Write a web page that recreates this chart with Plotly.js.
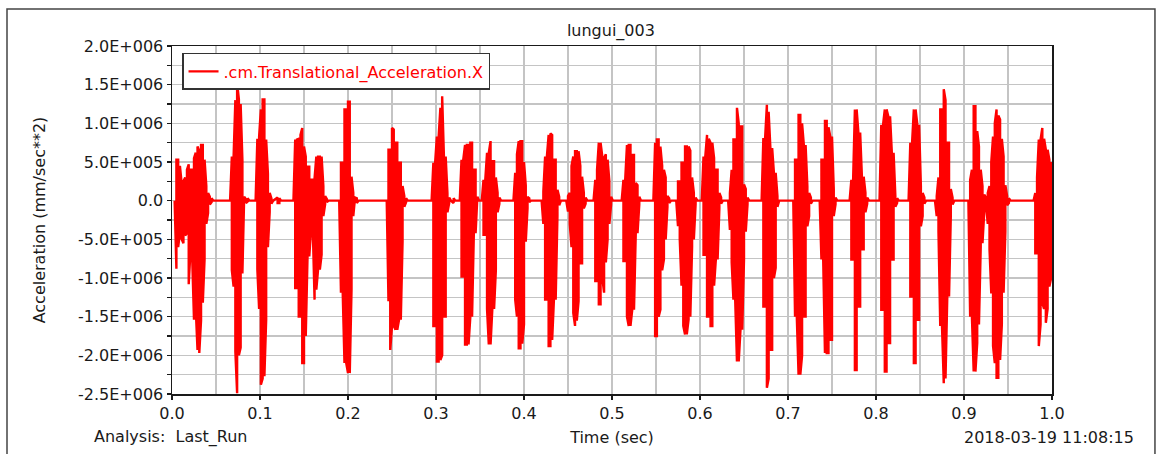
<!DOCTYPE html>
<html>
<head>
<meta charset="utf-8">
<script src="https://cdn.plot.ly/plotly-3.0.1.min.js"></script>
<style>html,body{margin:0;padding:0;background:#fff;}#chart{width:1157px;height:454px;}</style>
</head>
<body>
<div id="chart"></div>
<script>
// Sample times (sec) and the upper / lower extremes of the X acceleration at each sample, in units of 1E+006 mm/sec**2
const time = [
 0.003,
 0.005,0.007,0.009,0.011,0.013,0.015,0.017,0.019,0.021,0.023,0.025,0.027,0.029,0.031,0.033,0.035,0.037,0.039,0.041,0.043,0.045,0.047,
 0.066,0.068,0.070,0.072,0.074,0.076,0.078,0.080,0.082,0.084,0.086,0.088,
 0.095,0.097,0.099,0.101,0.103,0.105,0.107,0.109,0.111,0.113,0.115,0.120,0.122,0.124,
 0.138,0.140,0.142,0.144,0.146,0.148,0.150,0.152,0.154,0.156,0.158,0.160,0.162,0.164,0.166,0.168,0.170,0.172,0.174,0.176,0.178,
 0.190,0.192,0.194,0.196,0.198,0.200,0.202,0.204,0.206,0.208,0.210,0.212,
 0.244,0.246,0.248,0.250,0.252,0.254,0.256,0.258,0.260,0.262,0.264,0.266,0.268,
 0.295,0.297,0.299,0.301,0.303,0.305,0.307,0.309,0.311,0.313,0.315,0.317,0.320,0.322,
 0.327,0.329,0.331,0.333,0.335,0.337,0.339,0.341,0.343,0.345,0.347,0.349,
 0.352,0.354,0.356,0.358,0.360,0.362,0.364,0.366,0.368,0.370,0.372,0.374,
 0.388,0.390,0.392,0.394,0.396,0.398,0.400,0.402,0.404,0.406,0.408,
 0.420,0.422,0.424,0.426,0.428,0.430,0.432,0.434,0.436,0.438,0.440,0.442,
 0.448,0.450,0.452,0.454,0.456,0.458,0.460,0.462,0.464,0.466,0.468,0.470,0.472,
 0.479,0.481,0.483,0.485,0.487,0.489,0.491,0.493,0.495,0.497,0.499,0.501,
 0.511,0.513,0.515,0.517,0.519,0.521,0.523,0.525,0.527,0.529,0.531,0.533,
 0.547,0.549,0.551,0.553,0.555,0.557,0.559,0.561,0.563,0.565,0.567,
 0.573,0.575,0.577,0.579,0.581,0.583,0.585,0.587,0.589,0.591,0.593,0.595,0.597,
 0.602,0.604,0.606,0.608,0.610,0.612,0.614,0.616,0.618,0.620,0.622,0.624,0.626,
 0.632,0.634,0.636,0.638,0.640,0.642,0.644,0.646,0.648,0.650,0.652,0.654,0.656,
 0.670,0.672,0.674,0.676,0.678,0.680,0.682,0.684,0.686,0.688,0.690,
 0.706,0.708,0.710,0.712,0.714,0.716,0.718,0.720,0.722,0.724,0.726,0.728,
 0.736,0.738,0.740,0.742,0.744,0.746,0.748,0.750,0.752,0.754,0.756,
 0.770,0.772,0.774,0.776,0.778,0.780,0.782,0.784,0.786,0.788,0.790,0.792,
 0.804,0.806,0.808,0.810,0.812,0.814,0.816,0.818,0.820,0.822,0.824,0.826,
 0.837,0.839,0.841,0.843,0.845,0.847,0.849,0.851,0.853,0.855,0.857,
 0.867,0.869,0.871,0.873,0.875,0.877,0.879,0.881,0.883,0.885,0.887,0.889,
 0.905,0.907,0.909,0.911,0.913,0.915,0.917,0.919,0.921,0.923,0.925,
 0.927,0.929,0.931,0.933,0.935,0.937,0.939,0.941,0.943,0.945,0.947,0.949,0.951,0.953,
 0.979,0.981,0.983,0.985,0.987,0.989,0.991,0.993,0.995,0.997,0.999,1.000
];
const upperE6 = [
 0,
 .53,.53,.45,.22,.25,.30,.40,.47,.40,.40,.55,.62,.70,.64,.72,.72,.53,.19,.10,.05,.03,0,
 0,.57,.57,1.30,1.52,1.31,1.25,.53,.05,.02,.03,0,
 0,.80,.83,1.18,1.31,1.31,.79,.35,.10,.03,0,.04,.03,0,
 0,.79,.79,.80,.85,.94,.70,.57,.44,.44,.27,.27,.29,.57,.57,.57,.57,.19,.06,.02,0,
 0,.49,.49,1.18,1.18,1.28,1.28,.31,.10,.04,.03,0,
 0,.66,.66,.94,.92,.75,.75,.49,.49,.19,.06,.03,0,
 0,.49,.49,.83,.83,1.20,1.35,.57,.57,.10,.04,0,.03,0,
 0,.53,.53,.72,.72,.72,.75,.75,.40,.40,.05,0,
 0,.27,.27,.62,.62,.77,.51,.51,.30,.10,.04,0,
 0,.36,.60,.77,.77,.77,.50,.20,.05,.03,0,
 0,.12,.57,.57,.85,.87,.85,.53,.53,.14,.05,0,
 0,.06,.10,.45,.57,.64,.64,.64,.45,.31,.10,.04,0,
 0,.27,.40,.75,.75,.57,.55,.60,.53,.25,.05,0,
 0,.27,.27,.72,.72,.72,.59,.59,.23,.20,.05,0,
 0,.75,.79,.79,.70,.45,.40,.30,.06,.03,0,
 0,.25,.25,.49,.49,.70,.70,.70,.65,.30,.10,.04,0,
 0,.57,.57,.85,.80,.75,.75,.55,.40,.40,.10,.04,0,
 0,.10,.40,.79,.79,1.20,1.00,.96,.96,.21,.15,.04,0,
 0,.81,.81,1.24,1.15,.68,.68,.36,.36,.06,0,
 0,.53,.53,1.11,1.11,1.00,.72,.72,.19,.10,.04,0,
 0,.53,.53,1.03,1.03,.95,.83,.83,.15,.04,0,
 0,.27,.27,1.18,1.18,.88,.88,.31,.31,.10,.04,0,
 0,.98,.98,1.18,1.18,1.09,1.09,.62,.62,.06,.03,0,
 0,.75,.75,1.18,1.18,.98,.98,.19,.10,.04,0,
 0,.06,.30,1.18,1.18,1.44,1.30,.75,.75,.15,.04,0,
 0,.27,.40,1.22,1.22,.90,.70,.40,.19,.08,.04,
 .10,.19,.50,.83,1.00,1.18,1.10,1.05,.80,.57,.20,.06,.03,0,
 0,.10,.30,.79,.79,.94,.80,.66,.66,.53,.50,.19
];
const lowerE6 = [
 0,
 -.88,-.60,-.42,-.50,-.55,-.45,-.42,-1.08,-.65,-.76,-1.54,-1.40,-1.93,-1.97,-1.55,-1.32,-.76,-.30,-.16,-.05,-.02,0,
 0,-.90,-1.11,-1.95,-2.49,-2.00,-1.90,-.94,-.05,-.03,-.01,0,
 0,-.89,-1.40,-2.38,-2.30,-2.27,-1.54,-.60,-.15,-.04,0,-.03,-.03,0,
 0,-1.13,-1.13,-1.50,-1.50,-2.10,-2.10,-1.75,-.72,-.72,-.38,-.38,-1.28,-1.15,-.89,-.89,-.70,-.20,-.05,-.02,0,
 0,-1.19,-1.19,-2.10,-2.10,-2.23,-2.23,-1.15,-.20,-.03,-.03,0,
 0,-1.30,-1.93,-1.62,-1.62,-1.67,-1.67,-1.54,-1.54,-.53,-.08,-.02,0,
 0,-1.62,-1.62,-2.08,-2.08,-2.06,-2.00,-1.50,-1.50,-.15,-.03,0,-.03,0,
 0,-.98,-.98,-1.86,-1.86,-1.86,-1.50,-1.50,-.42,-.42,-.05,0,
 0,-.44,-.44,-1.40,-1.86,-1.86,-1.40,-1.40,-.90,-.15,-.04,0,
 0,-1.28,-1.50,-1.91,-1.91,-1.85,-1.60,-.53,-.10,-.02,0,
 0,-.30,-1.28,-1.28,-1.88,-1.88,-1.80,-1.28,-1.28,-.20,-.06,0,
 0,-.14,-.30,-.60,-1.45,-1.62,-1.55,-1.30,-.81,-.81,-.10,-.04,0,
 0,-1.04,-1.04,-1.34,-1.34,-1.00,-1.19,-.80,-.50,-.30,-.05,0,
 0,-.78,-.78,-1.50,-1.62,-1.62,-1.41,-1.41,-.42,-.42,-.05,0,
 0,-1.75,-1.75,-1.50,-1.41,-.90,-.76,-.50,-.08,-.03,0,
 0,-.33,-.50,-1.10,-1.62,-1.73,-1.73,-1.54,-1.50,-.60,-.50,-.05,0,
 0,-.70,-.70,-1.50,-1.50,-1.62,-1.62,-1.10,-.76,-.76,-.10,-.04,0,
 0,-.38,-.80,-1.28,-1.28,-2.08,-2.08,-1.67,-1.67,-.76,-.40,-.05,0,
 0,-1.37,-1.37,-2.42,-2.30,-1.93,-1.93,-1.00,-.87,-.08,0,
 0,-1.50,-1.50,-2.25,-2.25,-2.00,-1.50,-1.50,-.33,-.20,-.04,0,
 0,-.76,-.76,-1.97,-1.97,-1.97,-1.80,-1.80,-.20,-.05,0,
 0,-.76,-.76,-2.19,-2.19,-1.37,-1.37,-.63,-.63,-.15,-.04,0,
 0,-1.41,-1.41,-2.21,-2.21,-1.84,-1.84,-.76,-.76,-.08,-.03,0,
 0,-1.24,-1.24,-2.10,-2.10,-1.54,-1.54,-.33,-.20,-.04,0,
 0,-.20,-.40,-1.62,-1.62,-2.36,-2.30,-1.24,-1.24,-.20,-.05,0,
 0,-1.50,-1.50,-2.21,-2.21,-1.84,-1.60,-.60,-.55,-.15,-.04,
 -.30,-.63,-1.20,-1.88,-2.10,-2.29,-2.29,-2.06,-1.60,-1.19,-.40,-.06,-.03,0,
 0,-.68,-.68,-1.88,-1.60,-1.32,-1.40,-1.58,-1.40,-1.11,-1.00,.19
];
const yTickVals = [-2.5e6,-2.0e6,-1.5e6,-1.0e6,-0.5e6,0,0.5e6,1.0e6,1.5e6,2.0e6];
const yTickText = ["-2.5E+006","-2.0E+006","-1.5E+006","-1.0E+006","-5.0E+005","0.0","5.0E+005","1.0E+006","1.5E+006","2.0E+006"];
const seriesName = ".cm.Translational_Acceleration.X";
const chartTitle = "lungui_003";
const analysisText = "Analysis:\u00a0 Last_Run";
const dateText = "2018-03-19 11:08:15";

// Trace each sample as a stroke between its upper and lower extreme
const xs = [], ys = [];
for (let i = 0; i < time.length; i++) {
  const hi = upperE6[i] * 1e6, lo = lowerE6[i] * 1e6;
  xs.push(time[i], time[i]);
  if (i % 2 === 0) ys.push(hi, lo); else ys.push(lo, hi);
}

const FONT = '"DejaVu Sans", Verdana, sans-serif';
const TXT = '#1a1a1a';
const trace = {
  x: xs, y: ys, type: 'scatter', mode: 'lines', name: seriesName,
  line: {color: '#ff0000', width: 2.4}, showlegend: true
};
const grid = '#c4c4c4';
const layout = {
  width: 1157, height: 454,
  margin: {l: 172, r: 105, t: 46, b: 60, pad: 0},
  paper_bgcolor: '#ffffff', plot_bgcolor: '#ffffff',
  font: {family: FONT, size: 16, color: TXT},
  title: {text: chartTitle, x: 0.528, xref: 'container', xanchor: 'center', y: 1 - 30/454, yref: 'container', yanchor: 'middle', font: {family: FONT, size: 16, color: TXT}},
  showlegend: true,
  legend: {x: 0.0114, y: 0.98, xanchor: 'left', yanchor: 'top', bgcolor: '#ffffff', bordercolor: '#333333', borderwidth: 1.5, font: {family: FONT, size: 16, color: '#ff0000'}, itemwidth: 30},
  xaxis: {
    range: [0, 1], tickmode: 'linear', tick0: 0, dtick: 0.1, tickformat: '.1f',
    showgrid: true, gridcolor: grid, gridwidth: 1.5,
    minor: {tickmode: 'linear', tick0: 0, dtick: 0.05, showgrid: true, gridcolor: grid, gridwidth: 1.5},
    showline: true, linecolor: TXT, linewidth: 1.5, mirror: true,
    ticks: 'outside', ticklen: 4, tickwidth: 1.2, tickcolor: TXT, zeroline: false,
    tickfont: {family: FONT, size: 16, color: TXT},
    title: {text: 'Time (sec)', standoff: 10, font: {family: FONT, size: 16, color: TXT}}
  },
  yaxis: {
    range: [-2.5e6, 2.0e6], tickmode: 'array', tickvals: yTickVals, ticktext: yTickText,
    showgrid: true, gridcolor: grid, gridwidth: 1.5,
    minor: {tickmode: 'linear', tick0: 0, dtick: 250000, showgrid: true, gridcolor: grid, gridwidth: 1.5, ticks: 'outside', ticklen: 4, tickcolor: TXT},
    showline: true, linecolor: TXT, linewidth: 1.5, mirror: true,
    ticks: 'outside', ticklen: 4, tickwidth: 1.2, tickcolor: TXT, zeroline: false,
    tickfont: {family: FONT, size: 16, color: TXT},
    title: {text: 'Acceleration (mm/sec**2)', standoff: 28, font: {family: FONT, size: 16, color: TXT}}
  },
  annotations: [
    {text: analysisText, xref: 'paper', yref: 'paper', x: -0.0909, y: -0.1236, xanchor: 'left', yanchor: 'middle', showarrow: false, font: {family: FONT, size: 16, color: TXT}},
    {text: dateText, xref: 'paper', yref: 'paper', x: 1.0955, y: -0.1236, xanchor: 'right', yanchor: 'middle', showarrow: false, font: {family: FONT, size: 16, color: TXT}}
  ],
  shapes: [
    {type: 'path', xref: 'paper', yref: 'paper', path: 'M -0.1875 -0.2 L -0.1875 1.106 L 1.117 1.106 L 1.117 -0.2', line: {color: '#444444', width: 1.5}, layer: 'above'}
  ]
};
Plotly.newPlot('chart', [trace], layout, {staticPlot: true, displayModeBar: false});
</script>
</body>
</html>
